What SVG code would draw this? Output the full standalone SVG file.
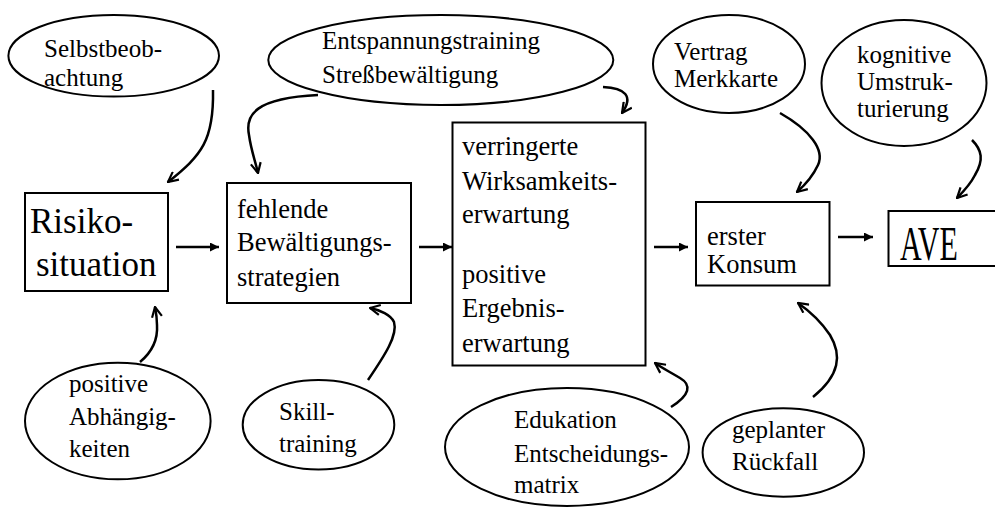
<svg xmlns="http://www.w3.org/2000/svg" width="995" height="508" viewBox="0 0 995 508" font-family="Liberation Serif, Times New Roman, serif">
<defs>
<style>
.bg{fill:#ffffff}
.box{fill:#ffffff;stroke:#000;stroke-width:2}
.ell{fill:#ffffff;stroke:#000;stroke-width:2}
.t{font-size:25px;fill:#000}
.tb{font-size:26.5px;fill:#000}
.big{font-size:35px;fill:#000}
.ave{font-size:30px;fill:#000}
.cv{fill:none;stroke:#000;stroke-width:2.5;marker-end:url(#vee)}
.st{fill:none;stroke:#000;stroke-width:2.5;marker-end:url(#tri)}
</style>
<marker id="vee" viewBox="0 0 12 12" refX="11" refY="6" markerWidth="12" markerHeight="12" markerUnits="userSpaceOnUse" orient="auto">
<path d="M1,1 L11,6 L1,11" fill="none" stroke="#000" stroke-width="2.2"/>
</marker>
<marker id="tri" viewBox="0 0 10 10" refX="10" refY="5" markerWidth="10" markerHeight="9" markerUnits="userSpaceOnUse" orient="auto">
<path d="M0,0 L10,5 L0,10 Z" fill="#000"/>
</marker>
</defs>
<rect class="bg" x="0" y="0" width="995" height="508"/>

<g id="connectors">
<path class="cv" d="M213,90 C214,140 202,155 168,182"/>
<path class="cv" d="M318,95 C255,98 245,115 249,135 C251,150 255,160 258,173"/>
<path class="cv" d="M603,87 C625,88 634,96 622,113"/>
<path class="cv" d="M140,362 C152,352 158,340 157,325 C157,318 156,312 155,307"/>
<path class="cv" d="M368,380 C385,355 398,335 394,322 C391,315 380,310 370,308"/>
<path class="cv" d="M671,407 C690,395 692,385 680,378 C670,372 662,368 655,363"/>
<path class="cv" d="M813,397 C840,375 842,355 830,335 C820,320 808,310 798,303"/>
<path class="cv" d="M780,113 C810,130 825,150 818,165 C812,178 805,185 797,192"/>
<path class="cv" d="M972,140 C982,150 984,160 975,175 C970,185 962,193 957,198"/>
<path class="st" d="M176,247 L219,247"/>
<path class="st" d="M419,247 L452,247"/>
<path class="st" d="M654,247 L688,247"/>
<path class="st" d="M838,237 L873,237"/>
</g>

<g id="selbstbeobachtung" font-family="Liberation Serif, serif">
<ellipse class="ell" cx="113.7" cy="55.8" rx="105.3" ry="40.8"/>
<text class="t" x="44" y="57">Selbstbeob-</text>
<text class="t" x="44" y="86">achtung</text>
</g>

<g id="entspannung" font-family="Liberation Serif, serif">
<ellipse class="ell" cx="440.8" cy="60" rx="172.5" ry="45"/>
<text class="t" x="322" y="49">Entspannungstraining</text>
<text class="t" x="322" y="83">Streßbewältigung</text>
</g>

<g id="vertrag" font-family="Liberation Serif, serif">
<ellipse class="ell" cx="729" cy="64" rx="76" ry="49"/>
<text class="t" x="674" y="60">Vertrag</text>
<text class="t" x="674" y="87">Merkkarte</text>
</g>

<g id="kognitive" font-family="Liberation Serif, serif">
<ellipse class="ell" cx="904" cy="83" rx="82.5" ry="63"/>
<text class="t" x="857" y="63">kognitive</text>
<text class="t" x="857" y="90">Umstruk-</text>
<text class="t" x="857" y="117">turierung</text>
</g>

<g id="risikosituation" font-family="Liberation Serif, serif">
<rect class="box" x="25" y="193" width="143" height="98"/>
<text class="big" x="30" y="233">Risiko-</text>
<text class="big" x="36" y="276">situation</text>
</g>

<g id="fehlende" font-family="Liberation Serif, serif">
<rect class="box" x="227" y="183" width="184" height="120"/>
<text class="tb" x="237" y="218">fehlende</text>
<text class="tb" x="237" y="251">Bewältigungs-</text>
<text class="tb" x="237" y="286">strategien</text>
</g>

<g id="erwartung" font-family="Liberation Serif, serif">
<rect class="box" x="452.5" y="122.5" width="193" height="243"/>
<text class="tb" x="462" y="155">verringerte</text>
<text class="tb" x="462" y="190">Wirksamkeits-</text>
<text class="tb" x="462" y="223">erwartung</text>
<text class="tb" x="462" y="283">positive</text>
<text class="tb" x="462" y="317">Ergebnis-</text>
<text class="tb" x="462" y="352">erwartung</text>
</g>

<g id="erster" font-family="Liberation Serif, serif">
<rect class="box" x="696" y="202" width="133.5" height="83.5"/>
<text class="tb" x="707" y="245">erster</text>
<text class="tb" x="707" y="273">Konsum</text>
</g>

<g id="ave" font-family="Liberation Serif, serif">
<rect class="box" x="888.5" y="211" width="112" height="55"/>
<text class="ave" transform="translate(900,260) scale(1,1.6)" x="0" y="0">AVE</text>
</g>

<g id="positive" font-family="Liberation Serif, serif">
<ellipse class="ell" cx="117.8" cy="421" rx="92.8" ry="58.3"/>
<text class="t" x="69" y="392">positive</text>
<text class="t" x="69" y="425">Abhängig-</text>
<text class="t" x="69" y="457">keiten</text>
</g>

<g id="skill" font-family="Liberation Serif, serif">
<ellipse class="ell" cx="318.5" cy="424.7" rx="75.8" ry="44.7"/>
<text class="t" x="279" y="420">Skill-</text>
<text class="t" x="279" y="452">training</text>
</g>

<g id="edukation" font-family="Liberation Serif, serif">
<ellipse class="ell" cx="567" cy="447" rx="122" ry="59"/>
<text class="t" x="514" y="428">Edukation</text>
<text class="t" x="514" y="462">Entscheidungs-</text>
<text class="t" x="514" y="493">matrix</text>
</g>

<g id="geplanter" font-family="Liberation Serif, serif">
<ellipse class="ell" cx="783.3" cy="452.5" rx="80.7" ry="44.2"/>
<text class="t" x="732" y="438">geplanter</text>
<text class="t" x="732" y="470">Rückfall</text>
</g>
</svg>
